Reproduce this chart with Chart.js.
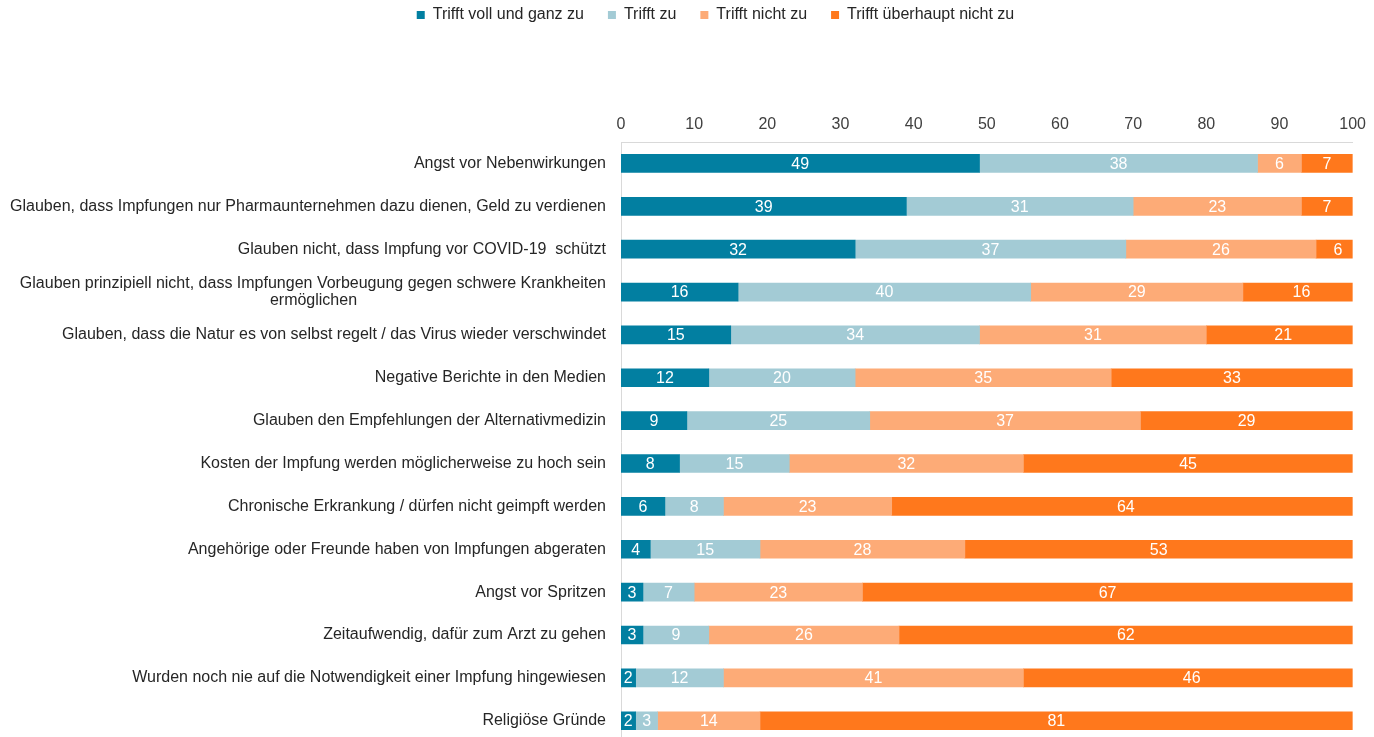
<!DOCTYPE html>
<html lang="de">
<head>
<meta charset="utf-8">
<title>Gründe gegen die Impfung</title>
<script src="https://cdn.jsdelivr.net/npm/chart.js@4.4.1/dist/chart.umd.min.js"></script>
<style>
  html, body { margin: 0; padding: 0; background: #fff; overflow: hidden; }
  #wrap { position: absolute; left: 0; top: 0; width: 1374px; height: 766px; }
</style>
</head>
<body>
<div id="wrap"><canvas id="reasonsChart"></canvas></div>
<script>
const categories = [
  "Angst vor Nebenwirkungen",
  "Glauben, dass Impfungen nur Pharmaunternehmen dazu dienen, Geld zu verdienen",
  "Glauben nicht, dass Impfung vor COVID-19  schützt",
  ["Glauben prinzipiell nicht, dass Impfungen Vorbeugung gegen schwere Krankheiten", "ermöglichen"],
  "Glauben, dass die Natur es von selbst regelt / das Virus wieder verschwindet",
  "Negative Berichte in den Medien",
  "Glauben den Empfehlungen der Alternativmedizin",
  "Kosten der Impfung werden möglicherweise zu hoch sein",
  "Chronische Erkrankung / dürfen nicht geimpft werden",
  "Angehörige oder Freunde haben von Impfungen abgeraten",
  "Angst vor Spritzen",
  "Zeitaufwendig, dafür zum Arzt zu gehen",
  "Wurden noch nie auf die Notwendigkeit einer Impfung hingewiesen",
  "Religiöse Gründe"
];

const seriesNames = ["Trifft voll und ganz zu", "Trifft zu", "Trifft nicht zu", "Trifft überhaupt nicht zu"];

const vollUndGanz = [49, 39, 32, 16, 15, 12, 9, 8, 6, 4, 3, 3, 2, 2];
const trifftZu    = [38, 31, 37, 40, 34, 20, 25, 15, 8, 15, 7, 9, 12, 3];
const nichtZu     = [6, 23, 26, 29, 31, 35, 37, 32, 23, 28, 23, 26, 41, 14];
const ueberhauptNicht = [7, 7, 6, 16, 21, 33, 29, 45, 64, 53, 67, 62, 46, 81];

const xTicks = [0, 10, 20, 30, 40, 50, 60, 70, 80, 90, 100];

const colors = ["#027fa1", "#a3cbd5", "#fdab77", "#ff781c"];

const FONT = "'Liberation Sans', Arial, sans-serif";

// zweite Zeile des umbrochenen Labels wie im Original mittig setzen
const measure = document.createElement("canvas").getContext("2d");
measure.font = "16px " + FONT;
const labels = categories.map(c => {
  if (!Array.isArray(c)) return c;
  const w0 = measure.measureText(c[0]).width;
  const w1 = measure.measureText(c[1]).width;
  const sp = measure.measureText(" ").width;
  const n = Math.round((w0 - w1) / 2 / sp);
  return [c[0], c[1] + " ".repeat(n)];
});

const valueLabels = {
  id: "valueLabels",
  afterDatasetsDraw(chart) {
    const ctx = chart.ctx;
    ctx.save();
    ctx.font = "16px " + FONT;
    ctx.fillStyle = "#ffffff";
    ctx.textAlign = "center";
    ctx.textBaseline = "middle";
    chart.data.datasets.forEach((ds, i) => {
      chart.getDatasetMeta(i).data.forEach((bar, j) => {
        const x = (bar.x + bar.base) / 2;
        ctx.fillText(ds.data[j], x, bar.y + 1);
      });
    });
    ctx.restore();
  }
};

// Legende wie im Original etwas nach rechts und nach oben setzen
const legendShift = {
  id: "legendShift",
  afterLayout(chart) {
    const lg = chart.legend;
    lg.left += 39;
    lg.right += 39;
    const dy = 15 - (lg.top + 24 + 8);
    lg.top += dy;
    lg.bottom += dy;
  }
};

const ctx = document.getElementById("reasonsChart");

new Chart(ctx, {
  type: "bar",
  data: {
    labels: labels,
    datasets: [
      { label: seriesNames[0], data: vollUndGanz, backgroundColor: colors[0] },
      { label: seriesNames[1], data: trifftZu, backgroundColor: colors[1] },
      { label: seriesNames[2], data: nichtZu, backgroundColor: colors[2] },
      { label: seriesNames[3], data: ueberhauptNicht, backgroundColor: colors[3] }
    ]
  },
  options: {
    indexAxis: "y",
    responsive: true,
    maintainAspectRatio: false,
    animation: false,
    barThickness: 18,
    layout: { padding: { left: 0, right: 21, top: 0, bottom: 2 } },
    plugins: {
      legend: {
        position: "top",
        labels: {
          boxWidth: 8,
          boxHeight: 8,
          padding: 24,
          color: "#262626",
          font: { family: FONT, size: 16 }
        }
      },
      tooltip: { enabled: false }
    },
    scales: {
      x: {
        position: "top",
        stacked: true,
        min: 0,
        max: 100,
        afterBuildTicks: s => { s.ticks = xTicks.map(v => ({ value: v })); },
        afterFit: s => { s.height = 142 - s.chart.legend.height; },
        grid: { display: false, drawTicks: false },
        border: { display: true, color: "#d9d9d9", width: 1 },
        ticks: {
          padding: 8,
          color: "#404040",
          font: { family: FONT, size: 16 }
        }
      },
      y: {
        stacked: true,
        afterFit: s => { s.width = 621; },
        grid: { display: false, drawTicks: false },
        border: { display: true, color: "#d9d9d9", width: 1 },
        ticks: {
          padding: 15,
          color: "#262626",
          font: { family: FONT, size: 16, lineHeight: 1.1 }
        }
      }
    }
  },
  plugins: [valueLabels, legendShift]
});
</script>
</body>
</html>
